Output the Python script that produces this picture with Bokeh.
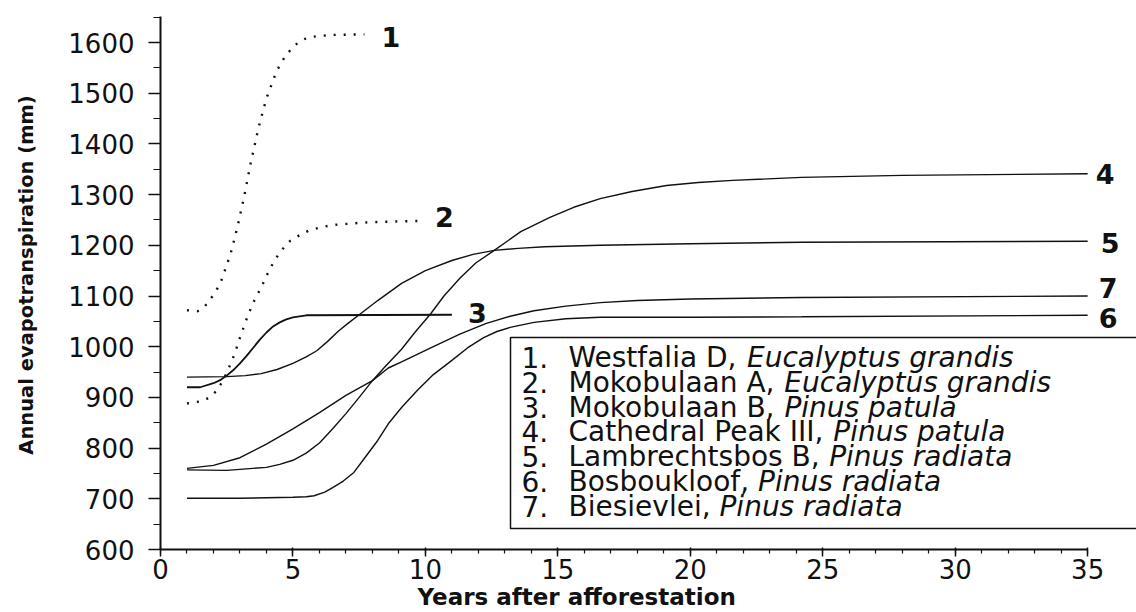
from bokeh.plotting import figure
from bokeh.models import Label, BoxAnnotation, SingleIntervalTicker, Title
from bokeh.embed import file_html
from bokeh.resources import INLINE

# ---------------- data ----------------
x1 = [1, 1.4, 1.65, 1.9, 2.1, 2.3, 2.65, 2.9, 3.15, 3.4, 3.7, 4.0, 4.35, 4.5, 4.7, 4.95,
      5.2, 5.45, 5.7, 6.0, 6.5, 7.7]
y1 = [1072, 1070, 1078, 1095, 1110, 1131, 1184, 1235, 1294, 1361, 1432, 1490, 1539, 1555,
      1572, 1588, 1600, 1607, 1611, 1613, 1615, 1616]

x2 = [1, 1.6, 1.85, 2.1, 2.3, 2.5, 2.8, 3.0, 3.3, 3.55, 3.8, 4.05, 4.3, 4.6, 4.9, 5.25,
      5.6, 6.0, 6.5, 7.7, 8.8, 9.8]
y2 = [888, 893, 900, 912, 928, 948, 986, 1018, 1062, 1092, 1117, 1145, 1170, 1192, 1209,
      1220, 1229, 1235, 1240, 1245, 1247, 1248]

x3 = [1, 1.5, 2.0, 2.25, 2.5, 2.75, 3.0, 3.25, 3.5, 3.75, 4.0, 4.25, 4.5, 4.75, 5.0, 5.5, 11]
y3 = [920, 920, 928, 934, 943, 954, 967, 982, 998, 1014, 1028, 1040, 1048, 1054, 1058,
      1062, 1063]

x4 = [1, 2.5, 4.0, 4.5, 5.0, 5.5, 6.0, 6.5, 7.0, 7.5, 8.0, 8.5, 9.1, 9.6, 10.2, 10.7,
      11.3, 11.9, 12.6, 13.6, 14.7, 15.6, 16.6, 17.8, 19.1, 20.3, 21.6, 24.2, 28, 35]
y4 = [757, 756, 762, 768, 776, 790, 810, 838, 868, 900, 933, 962, 995, 1028, 1065, 1100,
      1135, 1165, 1190, 1227, 1255, 1275, 1292, 1306, 1318, 1324, 1328, 1334, 1338, 1341]

x5 = [1, 2.5, 3.2, 3.8, 4.4, 5.0, 5.5, 5.9, 6.3, 6.7, 7.1, 7.5, 8.2, 9.1, 10.0, 11.0,
      11.8, 12.6, 13.5, 14.5, 16.6, 20, 24.2, 35]
y5 = [940, 941, 943, 947, 955, 967, 980, 992, 1010, 1030, 1047, 1063, 1091, 1125, 1150,
      1170, 1182, 1190, 1194, 1197, 1200, 1203, 1206, 1208]

x6 = [1, 3, 5, 5.5, 5.8, 6.2, 6.5, 6.9, 7.3, 7.7, 8.2, 8.6, 9.1, 9.7, 10.3, 11.0, 11.6,
      12.2, 12.7, 13.2, 14.1, 15.3, 16.6, 20, 24.2, 35]
y6 = [701, 701, 703, 704, 706, 713, 722, 735, 752, 780, 815, 848, 880, 914, 945, 973, 998,
      1018, 1030, 1038, 1048, 1055, 1058, 1058, 1059, 1062]

x7 = [1, 2, 3, 4, 5, 6, 7, 8, 8.6, 9.1, 10.3, 11.3, 12.3, 13.2, 14.1, 15.3, 16.6, 18, 20,
      24.2, 35]
y7 = [760, 766, 781, 808, 838, 870, 904, 933, 958, 970, 1000, 1025, 1046, 1060, 1071, 1080,
      1087, 1091, 1094, 1097, 1100]

series_ids = ["1", "2", "3", "4", "5", "6", "7"]
site_names = ["Westfalia D, ", "Mokobulaan A, ", "Mokobulaan B, ", "Cathedral Peak III, ",
              "Lambrechtsbos B, ", "Bosboukloof, ", "Biesievlei, "]
species = ["Eucalyptus grandis", "Eucalyptus grandis", "Pinus patula", "Pinus patula",
           "Pinus radiata", "Pinus radiata", "Pinus radiata"]
x_ticks_interval = 5
y_ticks_interval = 100
x_label = "Years after afforestation"
y_label = "Annual evapotranspiration (mm)"

# ---------------- layout ----------------
W, H = 1136, 612
LEFT, BOTTOM = 160, 63
PPX = 26.49        # px per year
PPY = 0.507        # px per mm
X_END = (W - LEFT) / PPX
Y_END = 600 + (H - BOTTOM) / PPY


def dx(px):
    return (px - LEFT) / PPX


def dy(py):
    return 600 + ((H - BOTTOM) - py) / PPY


p = figure(width=W, height=H, x_range=(0, X_END), y_range=(600, Y_END),
           min_border_left=LEFT, min_border_right=0, min_border_top=0,
           min_border_bottom=BOTTOM, toolbar_location=None, output_backend="svg")
p.outline_line_color = None
p.grid.visible = False
p.background_fill_color = "white"
p.border_fill_color = "white"

INK = "#111111"
TICK_FONT = "DejaVu Sans"

xa = p.xaxis[0]
xa.ticker = SingleIntervalTicker(interval=x_ticks_interval, num_minor_ticks=5)
xa.bounds = (0, 35)
xa.axis_line_width = 2
xa.axis_line_color = INK
xa.major_tick_line_color = INK
xa.minor_tick_line_color = INK
xa.major_tick_line_width = 1.5
xa.minor_tick_line_width = 1.2
xa.major_tick_out = 7
xa.major_tick_in = 2
xa.minor_tick_out = 4
xa.minor_tick_in = 0
xa.major_label_standoff = 2
xa.major_label_text_font = TICK_FONT
xa.major_label_text_font_size = "26px"
xa.major_label_text_color = INK

# x-axis title as a below-panel title, placed where the reference has it
p.add_layout(Title(text=x_label, align="left", offset=257, standoff=0,
                   text_font="DejaVu Sans", text_font_style="bold",
                   text_font_size="23px", text_color=INK), "below")

ya = p.yaxis[0]
ya.ticker = SingleIntervalTicker(interval=y_ticks_interval, num_minor_ticks=2)
ya.bounds = (600, 1652)
ya.axis_line_width = 2
ya.axis_line_color = INK
ya.major_tick_line_color = INK
ya.minor_tick_line_color = INK
ya.major_tick_line_width = 1.5
ya.minor_tick_line_width = 1.2
ya.major_tick_out = 12
ya.major_tick_in = 0
ya.minor_tick_out = 7
ya.minor_tick_in = 0
ya.major_label_standoff = 14
ya.major_label_text_font = TICK_FONT
ya.major_label_text_font_size = "26px"
ya.major_label_text_color = INK
ya.axis_label = y_label
ya.axis_label_text_font = "DejaVu Sans"
ya.axis_label_text_font_style = "bold"
ya.axis_label_text_font_size = "19.5px"
ya.axis_label_text_color = INK
ya.axis_label_standoff = 27

# ---------------- curves ----------------
xs = [x1, x2, x3, x4, x5, x6, x7]
ys = [y1, y2, y3, y4, y5, y6, y7]
dashes = ["2 8", "2 8", "solid", "solid", "solid", "solid", "solid"]
widths = [2.4, 2.4, 1.8, 1.4, 1.4, 1.4, 1.4]
for xx, yy, ds, lw in zip(xs, ys, dashes, widths):
    p.line(xx, yy, line_color=INK, line_width=lw, line_dash=ds)

# curve end labels (offsets in screen px)
end_offsets = [(17, -3), (15, 4), (16, 2), (8, 0), (13, -2), (11, -3), (11, 8)]
for sid, xx, yy, (ox, oy) in zip(series_ids, xs, ys, end_offsets):
    p.add_layout(Label(x=xx[-1], y=yy[-1], x_offset=ox, y_offset=oy, text=sid,
                       text_font="DejaVu Sans", text_font_style="bold",
                       text_font_size="27px", text_baseline="middle",
                       text_align="left", text_color=INK))

# ---------------- legend box ----------------
p.add_layout(BoxAnnotation(left=dx(510), right=X_END + 5, bottom=dy(528), top=dy(337),
                           fill_color="white", fill_alpha=1.0,
                           line_color=INK, line_alpha=1.0, line_width=1.5,
                           level="annotation"))

# DejaVu Sans advance widths (units per 2048 em) used to place the italic part
ADV = {" ": 651, ",": 651, ".": 651, "A": 1401, "B": 1405, "C": 1430, "D": 1577,
       "I": 604, "L": 1141, "M": 1767, "P": 1235, "W": 2025, "a": 1255, "b": 1300,
       "c": 1126, "d": 1300, "e": 1260, "f": 721, "h": 1298, "i": 569, "k": 1186,
       "l": 569, "m": 1995, "n": 1298, "o": 1253, "r": 842, "s": 1067, "t": 803,
       "u": 1298, "v": 1212}
LEG_FS = 28


def text_w(s):
    return sum(ADV.get(c, 1250) for c in s) / 2048 * LEG_FS


for i, (sid, nm, sp) in enumerate(zip(series_ids, site_names, species)):
    cy = 357 + 24.8 * i
    common = dict(text_font="DejaVu Sans", text_font_size=f"{LEG_FS}px",
                  text_baseline="middle", text_align="left", text_color=INK,
                  level="overlay")
    p.add_layout(Label(x=dx(521), y=dy(cy), text=sid + ".", **common))
    p.add_layout(Label(x=dx(568), y=dy(cy), text=nm, **common))
    p.add_layout(Label(x=dx(568 + text_w(nm)), y=dy(cy), text=sp,
                       text_font_style="italic", **common))

open("out.html", "w").write(file_html(p, INLINE))
